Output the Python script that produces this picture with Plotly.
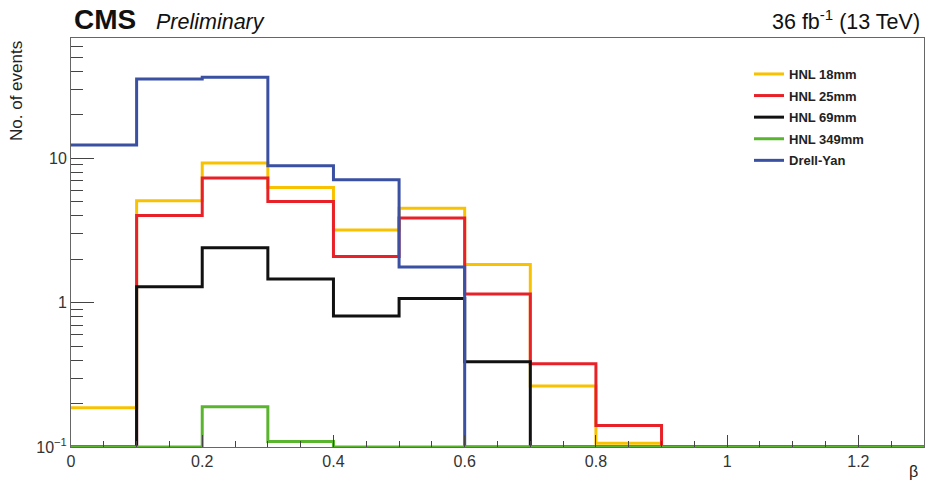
import plotly.graph_objects as go

# ---- data ----
bin_edges = [0.0, 0.1, 0.2, 0.3, 0.4, 0.5, 0.6, 0.7, 0.8, 0.9, 1.0, 1.1, 1.2, 1.3]
hnl_18mm = [0.187, 5.08, 9.27, 6.28, 3.19, 4.52, 1.84, 0.265, 0.106, 0, 0, 0, 0]
hnl_25mm = [0, 4.02, 7.3, 5.02, 2.09, 3.86, 1.15, 0.378, 0.141, 0, 0, 0, 0]
hnl_69mm = [0, 1.29, 2.4, 1.46, 0.81, 1.07, 0.39, 0, 0, 0, 0, 0, 0]
hnl_349mm = [0, 0, 0.19, 0.109, 0, 0, 0, 0, 0, 0, 0, 0, 0]
drell_yan = [12.4, 35.5, 36.5, 8.9, 7.1, 1.77, 0, 0, 0, 0, 0, 0, 0]

series_names = ["HNL 18mm", "HNL 25mm", "HNL 69mm", "HNL 349mm", "Drell-Yan"]
series_values = [hnl_18mm, hnl_25mm, hnl_69mm, hnl_349mm, drell_yan]
series_colors = ["#f9c200", "#e82128", "#111111", "#5ab52e", "#3a50a3"]

y_floor = 0.1
y_top = 68.2

y_major = [0.1, 1, 10]
y_major_text = ["10<sup>\u22121</sup>", "1", "10"]
y_minor = [m * d for d in (0.1, 1, 10) for m in range(2, 10) if m * d < y_top]

x_major = [0, 0.2, 0.4, 0.6, 0.8, 1.0, 1.2]
x_major_text = ["0", "0.2", "0.4", "0.6", "0.8", "1", "1.2"]

FONT = "Liberation Sans, Arial, Helvetica, sans-serif"
W, H = 926, 484
L, R, T, B = 71, 2, 38, 37
pw, ph = W - L - R, H - T - B


def px_to_paper(xp, yp):
    return (xp - L) / pw, (H - B - yp) / ph


fig = go.Figure()
order = [0, 1, 2, 4, 3]  # draw green last so it shows along the floor
for i in order:
    vals = [v if v > 0 else y_floor for v in series_values[i]]
    fig.add_trace(go.Scatter(
        x=bin_edges,
        y=vals + [vals[-1]],
        mode="lines",
        line=dict(shape="hv", color=series_colors[i], width=3),
        name="<b>" + series_names[i] + "</b>",
        legendrank=i + 1,
        legendgroup="g%d" % i,
    ))

lx, ly = px_to_paper(749, 59)
fig.update_layout(
    width=W,
    height=H,
    margin=dict(l=L, r=R, t=T, b=B),
    paper_bgcolor="white",
    plot_bgcolor="white",
    font=dict(family=FONT, color="#222"),
    showlegend=True,
    legend=dict(
        x=lx, y=ly, xanchor="left", yanchor="top",
        bgcolor="rgba(255,255,255,0)",
        font=dict(family=FONT, size=13, color="#222"),
        itemwidth=30,
        tracegroupgap=1.7,
    ),
)

fig.update_xaxes(
    range=[0, 1.3],
    showgrid=False, zeroline=False,
    showline=True, linecolor="#666", linewidth=1, mirror=True,
    ticks="inside", ticklen=12, tickcolor="#444", tickwidth=1,
    tickvals=x_major, ticktext=x_major_text,
    tickfont=dict(size=16, color="#333"),
    minor=dict(ticks="inside", ticklen=6, tickcolor="#444", dtick=0.05, tick0=0),
)
fig.update_yaxes(
    type="log",
    range=[-1, 1.834],
    showgrid=False, zeroline=False,
    showline=True, linecolor="#666", linewidth=1, mirror=True,
    ticks="inside", ticklen=23, tickcolor="#444", tickwidth=1,
    tickvals=y_major, ticktext=y_major_text,
    tickfont=dict(size=16, color="#333"),
    minor=dict(ticks="inside", ticklen=12, tickcolor="#444", tickvals=y_minor),
)

annots = [
    dict(text="<b>CMS</b>", x=72, y=20, size=28, xanchor="left"),
    dict(text="<i>Preliminary</i>", x=154, y=22, size=21.5, xanchor="left"),
    dict(text="36 fb<sup>-1</sup> (13 TeV)", x=922, y=20, size=21.5, xanchor="right"),
]
for a in annots:
    xx, yy = px_to_paper(a["x"], a["y"])
    fig.add_annotation(
        text=a["text"], x=xx, y=yy,
        xref="paper", yref="paper", showarrow=False,
        xanchor=a["xanchor"], yanchor="middle",
        font=dict(size=a["size"], family=FONT, color="#111"),
    )

xx, yy = px_to_paper(17, 39)
fig.add_annotation(text="No. of events", x=xx, y=yy, xref="paper", yref="paper",
                   showarrow=False, textangle=-90, xanchor="center", yanchor="top",
                   font=dict(size=17, family=FONT, color="#222"))
xx, yy = px_to_paper(913, 471)
fig.add_annotation(text="\u03b2", x=xx, y=yy, xref="paper", yref="paper",
                   showarrow=False, xanchor="center", yanchor="middle",
                   font=dict(size=16, family=FONT, color="#222"))

fig.write_html(
    "out.html",
    config={"displayModeBar": False},
    post_script="document.body.style.margin='0';document.body.style.overflow='hidden';",
)
